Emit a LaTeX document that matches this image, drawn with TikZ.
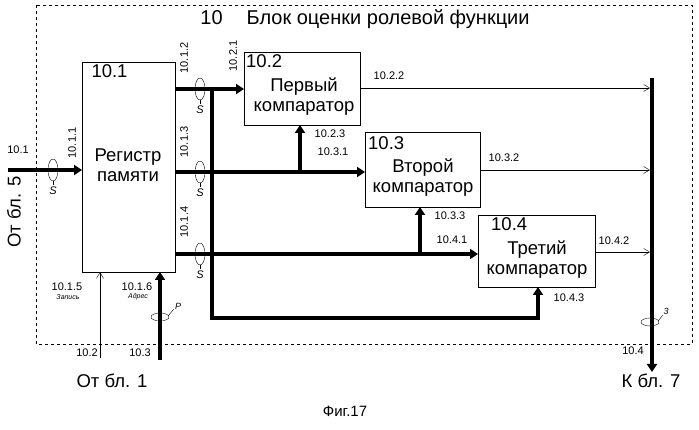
\documentclass[tikz,border=0pt]{standalone}
\usepackage{fontspec}
\setmainfont{Liberation Sans}
\usetikzlibrary{arrows.meta,shapes.geometric}
\begin{document}
\begin{tikzpicture}[x=1pt,y=-1pt,
  blk/.style={draw,thick,fill=white,inner sep=0pt},
  thk/.style={line width=3.5pt,-{Triangle[length=8pt,width=10pt]}},
  thn/.style={thin,-{Straight Barb[length=6pt,width=7pt]}},
  lb/.style={font=\fontsize{11}{11}\selectfont,inner sep=1pt},
  big/.style={font=\fontsize{18.5}{20}\selectfont,align=center},
  ov/.style={draw,thin,ellipse,minimum width=10pt,minimum height=22pt,inner sep=0pt}]
\useasboundingbox (0,0) rectangle (699,430);
\draw[dashed] (36,5) rectangle (692,344);
\node[font=\fontsize{20}{22}\selectfont] (title) at (365,19) {10\hspace{1.2em}Блок оценки ролевой функции};
% blocks
\draw[blk] (82,62) rectangle (175,272);
\node[big,anchor=north west] (n101) at (88,61) {10.1};
\node[big] (reg) at (128,165) {Регистр\\памяти};
\draw[blk] (244,52) rectangle (360,125);
\node[big,anchor=north west,inner sep=1pt] at (245,53) {10.2};
\node[big] at (304,97) {Первый\\компаратор};
\draw[blk] (365,132) rectangle (480,207);
\node[big,anchor=north west,inner sep=1pt] at (367,135) {10.3};
\node[big] at (423,178) {Второй\\компаратор};
\draw[blk] (478,215) rectangle (595,287);
\node[big,anchor=north west,inner sep=1pt] at (490,216) {10.4};
\node[big] at (537,260) {Третий\\компаратор};
% coordinates
\coordinate (i0) at (8,170); \coordinate (i1) at (82,170);
\coordinate (a0) at (175,89); \coordinate (a1) at (244,89);
\coordinate (b0) at (175,172); \coordinate (b1) at (365,172);
\coordinate (c0) at (175,254); \coordinate (c1) at (478,254);
% buses
\draw[thk] (i0) -- (i1);
\draw[thk] (a0) -- (a1);
\draw[thk] (b0) -- (b1);
\draw[thk] (c0) -- (c1);
\draw[thk] (300,172) -- (300,125);
\draw[thk] (420,254) -- (420,207);
\draw[thk] (212,89) -- (212,318) -- (538,318) -- (538,287);
\draw[thk] (160,360) -- (160,272);
\draw[thn] (100,358) -- (100,272);
\draw[thk] (652,78) -- (652,372);
\draw[thn] (360,88) -- (650,88);
\draw[thn] (480,170) -- (650,170);
\draw[thn] (595,252) -- (650,252);
% ovals
\foreach \x/\y in {53/170,200/89,200/172,200/254}{
  \node[ov,fill=none] at (\x,\y) {};
  \draw[thin] (\x,\y+11) -- (\x,\y+15);
  \node[lb,font=\itshape\fontsize{11}{11}\selectfont] at (\x,\y+21) {S};}
\node[draw,thin,ellipse,minimum width=18pt,minimum height=8pt,inner sep=0pt] at (160,317) {};
\draw[thin] (168,316) -- (174,309); \node[lb,font=\itshape\fontsize{9}{9}\selectfont] at (178,306) {P};
\node[draw,thin,ellipse,minimum width=18pt,minimum height=8pt,inner sep=0pt] at (650,322) {};
\draw[thin] (658,321) -- (663,315); \node[lb,font=\itshape\fontsize{9}{9}\selectfont] at (666,311) {3};
% labels
\node[lb] at (18,150) {10.1};
\node[lb,rotate=90] at (72,143) {10.1.1};
\node[lb,rotate=90] at (184,58) {10.1.2};
\node[lb,rotate=90] at (233,56) {10.2.1};
\node[lb,rotate=90] at (184,142) {10.1.3};
\node[lb,rotate=90] at (184,222) {10.1.4};
\node[lb] at (330,134) {10.2.3};
\node[lb] at (333,152) {10.3.1};
\node[lb] at (389,76) {10.2.2};
\node[lb] at (504,158) {10.3.2};
\node[lb] at (450,216) {10.3.3};
\node[lb] at (452,240) {10.4.1};
\node[lb] at (614,241) {10.4.2};
\node[lb] at (569,298) {10.4.3};
\node[lb] at (67,287) {10.1.5};
\node[lb,font=\itshape\fontsize{7}{7}\selectfont] at (68,297) {Запись};
\node[lb] at (137,287) {10.1.6};
\node[lb,font=\itshape\fontsize{7}{7}\selectfont] at (138,297) {Адрес};
\node[lb] at (87,353) {10.2};
\node[lb] at (140,353) {10.3};
\node[lb] at (633,351) {10.4};
\node[big,rotate=90] at (14,212) {От бл. 5};
\node[big] at (112,381) {От бл. 1};
\node[big] at (651,381) {К бл. 7};
\node[font=\fontsize{15}{16}\selectfont] at (345,411) {Фиг.17};
\end{tikzpicture}
\end{document}
